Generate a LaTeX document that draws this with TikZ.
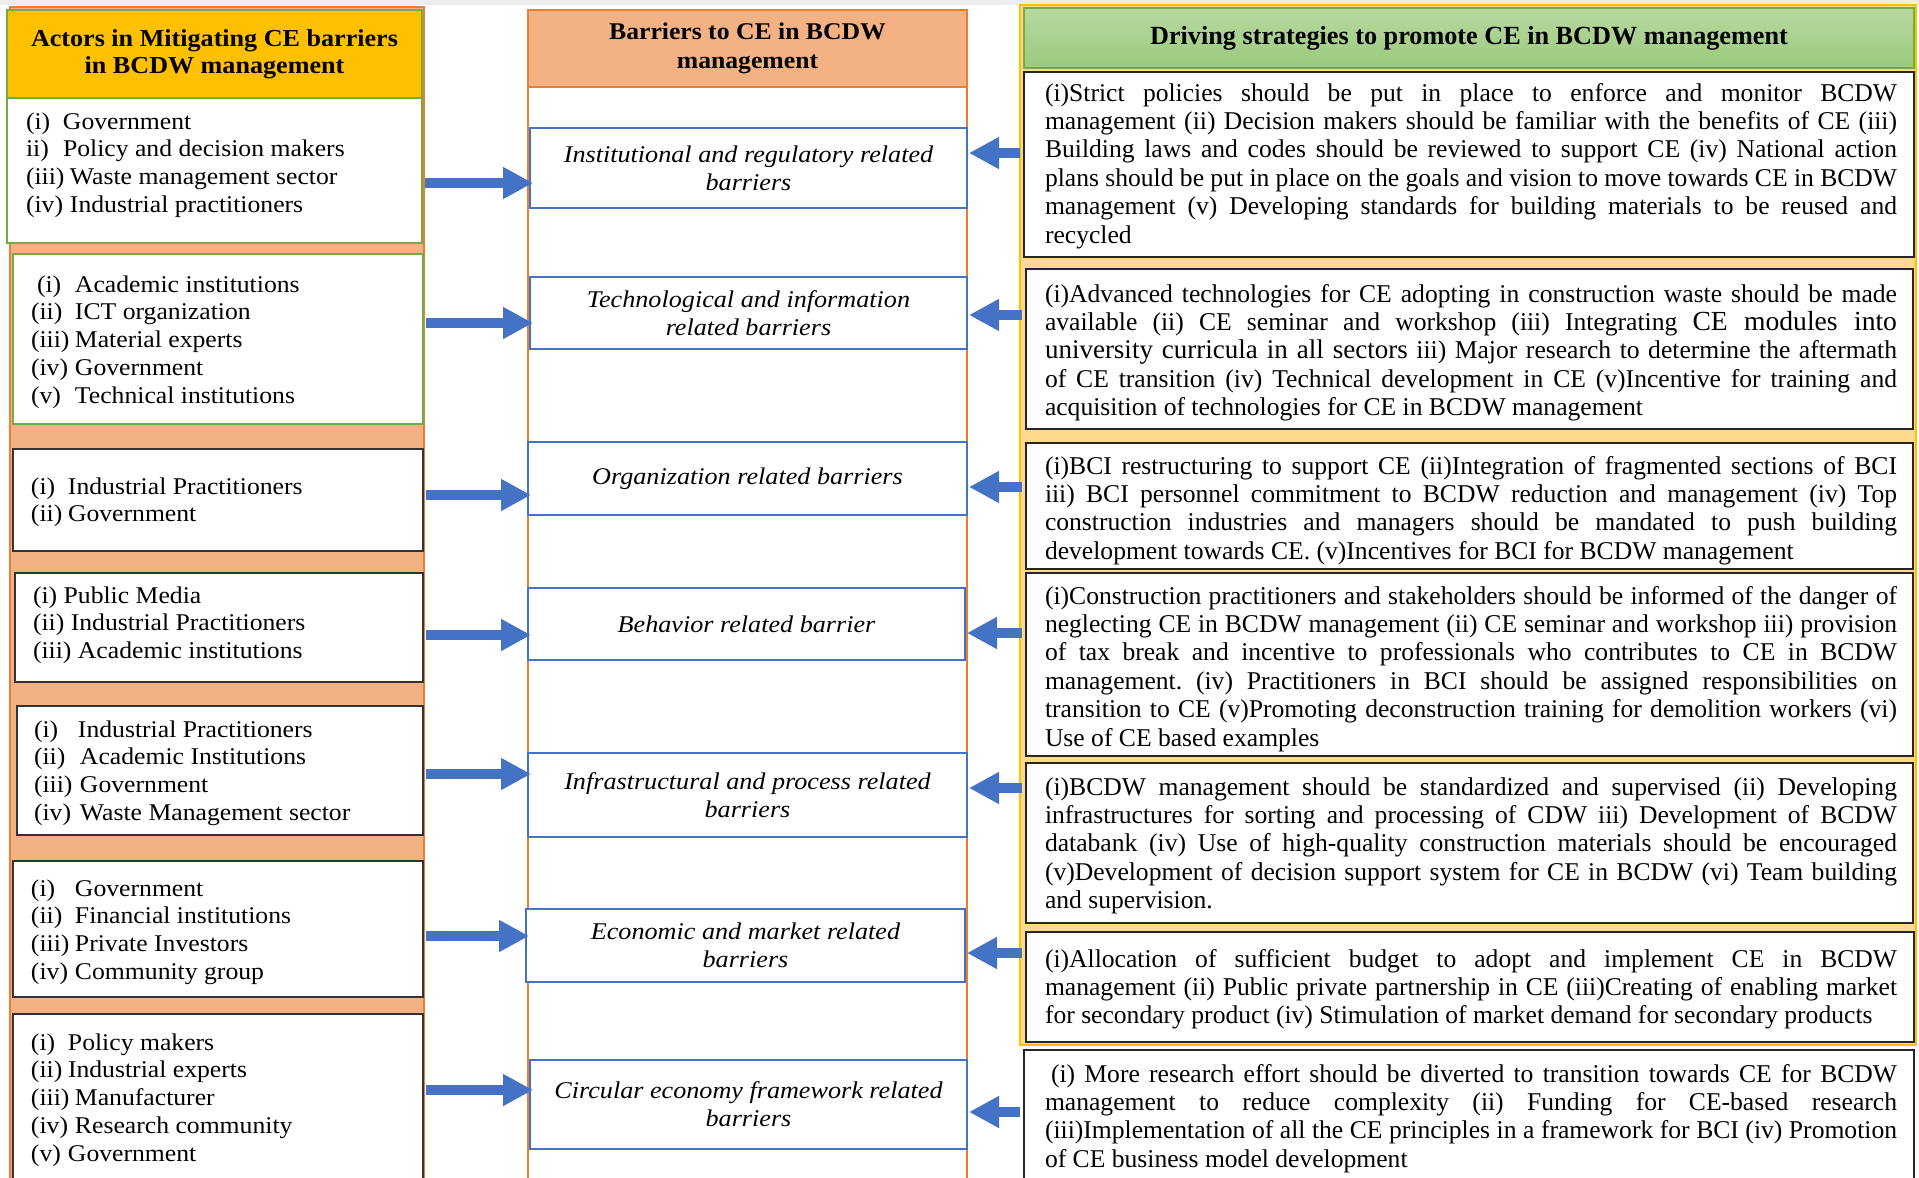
\documentclass[tikz,border=0pt]{standalone}
\usepackage{fontspec}
\setmainfont{Liberation Serif}
\newfontfamily\lfont[FakeStretch=1.07]{Liberation Serif}
\newfontfamily\mfont[FakeStretch=1.09]{Liberation Serif}
\usetikzlibrary{arrows.meta,fit,calc}
\definecolor{salmon}{HTML}{F4B183}
\definecolor{orline}{HTML}{ED7D31}
\definecolor{gold}{HTML}{FFC000}
\definecolor{grline}{HTML}{70AD47}
\definecolor{ryel}{HTML}{FFD98E}
\definecolor{abl}{HTML}{4472C4}
\definecolor{gtop}{HTML}{B7D9A0}
\definecolor{gbot}{HTML}{9CC97E}
\frenchspacing
\newcommand\itlab[2]{\makebox[#1][l]{#2}}
\newcommand\jline[1]{\makebox[426pt][s]{#1}}
\newcommand\leftlist[1]{\parbox[t]{195pt}{\lfont\fontsize{12pt}{13.95pt}\selectfont #1}}
\newcommand\rightpara[1]{\parbox[t]{426pt}{\frenchspacing\fontsize{12.8pt}{14.2pt}\selectfont #1}}
\begin{document}
\begin{tikzpicture}[x=0.5pt,y=-0.5pt,
  every node/.style={inner sep=0pt, outer sep=0pt},
  arr/.style={draw=abl, line width=5pt, -{Triangle[width=15pt,length=15pt]}},
  lbox/.style={draw=black!80, fill=white, line width=0.8pt},
  gbox/.style={draw=grline, fill=white, line width=0.8pt},
  bbox/.style={draw=abl, fill=white, line width=0.8pt},
  rbox/.style={draw=black!85, fill=white, line width=1pt},
  btext/.style={font=\mfont\itshape\fontsize{12pt}{14pt}\selectfont, align=center},
  htext/.style={font=\lfont\bfseries\fontsize{12.2pt}{13.75pt}\selectfont, align=center}]
\useasboundingbox (0,0) rectangle (1919,1178);
\fill[black!7] (0,0) rectangle (1919,5);

% ---------- left column ----------
\node[fit={(10,7)(424,1190)}, draw=orline, fill=salmon, line width=0.8pt] (Lcol) {};
\node[fit={(7,10)(422,98)}, draw=grline, fill=gold, line width=0.8pt] (Lhead) {};
\node[htext] at (Lhead) {Actors in Mitigating CE barriers\\in BCDW management};

\node[fit={(7,98)(422,243)}, gbox] (L1) {};
\node[fit={(13,254)(423,424)}, gbox] (L2) {};
\node[fit={(13,449)(423,551)}, lbox] (L3) {};
\node[fit={(15,573)(423,682)}, lbox] (L4) {};
\node[fit={(17,706)(423,835)}, lbox] (L5) {};
\node[fit={(13,861)(423,997)}, lbox] (L6) {};
\node[fit={(13,1014)(423,1195)}, lbox] (L7) {};

\node[anchor=base west] (T1) at ($(L1.north west)+(19,31)$) {\leftlist{%
\itlab{18.5pt}{(i)}Government\\
\itlab{18.5pt}{ii)}Policy and decision makers\\
\itlab{22pt}{(iii)}Waste management sector\\
\itlab{22pt}{(iv)}Industrial practitioners}};
\node[anchor=base west] (T2) at ($(L2.north west)+(18,38)$) {\leftlist{%
\itlab{22pt}{\hspace*{3pt}(i)}Academic institutions\\
\itlab{22pt}{(ii)}ICT organization\\
\itlab{22pt}{(iii)}Material experts\\
\itlab{22pt}{(iv)}Government\\
\itlab{22pt}{(v)}Technical institutions}};
\node[anchor=base west] (T3) at ($(L3.north west)+(18,45)$) {\leftlist{%
\itlab{18.5pt}{(i)}Industrial Practitioners\\
\itlab{18.5pt}{(ii)}Government}};
\node[anchor=base west] (T4) at ($(L4.north west)+(18,30)$) {\leftlist{%
(i) Public Media\\
(ii) Industrial Practitioners\\
(iii) Academic institutions}};
\node[anchor=base west] (T5) at ($(L5.north west)+(17,31)$) {\leftlist{%
\itlab{22pt}{(i)}Industrial Practitioners\\
\itlab{23pt}{(ii)}Academic Institutions\\
\itlab{23pt}{(iii)}Government\\
\itlab{23pt}{(iv)}Waste Management sector}};
\node[anchor=base west] (T6) at ($(L6.north west)+(18,35)$) {\leftlist{%
\itlab{22pt}{(i)}Government\\
\itlab{22pt}{(ii)}Financial institutions\\
\itlab{22pt}{(iii)}Private Investors\\
\itlab{22pt}{(iv)}Community group}};
\node[anchor=base west] (T7) at ($(L7.north west)+(18,36)$) {\leftlist{%
\itlab{18.5pt}{(i)}Policy makers\\
\itlab{18.5pt}{(ii)}Industrial experts\\
\itlab{22pt}{(iii)}Manufacturer\\
\itlab{22pt}{(iv)}Research community\\
\itlab{18.5pt}{(v)}Government}};

% ---------- middle column ----------
\node[fit={(528,10)(967,1195)}, draw=orline, fill=white, line width=0.8pt] (Mcol) {};
\node[fit={(528,10)(967,87)}, draw=orline, fill=salmon, line width=0.8pt] (Mhead) {};
\node[htext, font=\lfont\bfseries\fontsize{12pt}{14.5pt}\selectfont] at (Mhead) {Barriers to CE in BCDW\\management};

\node[fit={(530,128)(967,208)}, bbox] (B1) {};
\node[fit={(530,277)(967,349)}, bbox] (B2) {};
\node[fit={(528,442)(967,515)}, bbox] (B3) {};
\node[fit={(528,588)(965,660)}, bbox] (B4) {};
\node[fit={(528,753)(967,837)}, bbox] (B5) {};
\node[fit={(526,909)(965,982)}, bbox] (B6) {};
\node[fit={(530,1060)(967,1149)}, bbox] (B7) {};
\node[btext] at (B1) {Institutional and regulatory related\\barriers};
\node[btext] at (B2) {Technological and information\\related barriers};
\node[btext] at (B3) {Organization related barriers};
\node[btext] at (B4) {Behavior related barrier};
\node[btext] at (B5) {Infrastructural and process related\\barriers};
\node[btext] at (B6) {Economic and market related\\barriers};
\node[btext] at (B7) {Circular economy framework related\\barriers};

% ---------- right column ----------
\node[fit={(1020,5)(1916,1045)}, draw=gold, fill=ryel, line width=0.8pt] (Rcol) {};
\node[fit={(1024,8)(1914,68)}, draw=grline, top color=gtop, bottom color=gbot, line width=0.8pt] (Rhead) {};
\node[font=\bfseries\fontsize{13.1pt}{14pt}\selectfont] at (Rhead) {Driving strategies to promote CE in BCDW management};

\node[fit={(1024,72)(1914,257)}, rbox] (R1) {};
\node[fit={(1026,269)(1913,429)}, rbox] (R2) {};
\node[fit={(1026,443)(1913,569)}, rbox] (R3) {};
\node[fit={(1026,573)(1913,756)}, rbox] (R4) {};
\node[fit={(1026,763)(1913,923)}, rbox] (R5) {};
\node[fit={(1026,932)(1914,1042)}, rbox] (R6) {};
\node[fit={(1024,1050)(1914,1195)}, rbox] (R7) {};

\node[anchor=base west] (S1) at ($(R1.north west)+(21,29)$) {\rightpara{%
\jline{(i)Strict policies should be put in place to enforce and monitor BCDW}\\
\jline{management (ii) Decision makers should be familiar with the benefits of CE (iii)}\\
\jline{Building laws and codes should be reviewed to support CE (iv) National action}\\
\jline{plans should be put in place on the goals and vision to move towards CE in BCDW}\\
\jline{management (v) Developing standards for building materials to be reused and}\\
recycled}};
\node[anchor=base west] (S2) at ($(R2.north west)+(19,33)$) {\rightpara{%
\jline{(i)Advanced technologies for CE adopting in construction waste should be made}\\
\jline{available (ii) CE seminar and workshop (iii) Integrating {\fontsize{13.8pt}{14pt}\selectfont CE modules into}}\\
\jline{{\fontsize{13.5pt}{14pt}\selectfont university curricula in all sectors} iii) Major research to determine the aftermath}\\
\jline{of CE transition (iv) Technical development in CE (v)Incentive for training and}\\
acquisition of technologies for CE in BCDW management}};
\node[anchor=base west] (S3) at ($(R3.north west)+(19,31)$) {\rightpara{%
\jline{(i)BCI restructuring to support CE (ii)Integration of fragmented sections of BCI}\\
\jline{iii) BCI personnel commitment to BCDW reduction and management (iv) Top}\\
\jline{construction industries and managers should be mandated to push building}\\
development towards CE. (v)Incentives for BCI for BCDW management}};
\node[anchor=base west] (S4) at ($(R4.north west)+(19,31)$) {\rightpara{%
\jline{(i)Construction practitioners and stakeholders should be informed of the danger of}\\
\jline{neglecting CE in BCDW management (ii) CE seminar and workshop iii) provision}\\
\jline{of tax break and incentive to professionals who contributes to CE in BCDW}\\
\jline{management. (iv) Practitioners in BCI should be assigned responsibilities on}\\
\jline{transition to CE (v)Promoting deconstruction training for demolition workers (vi)}\\
Use of CE based examples}};
\node[anchor=base west] (S5) at ($(R5.north west)+(19,32)$) {\rightpara{%
\jline{(i)BCDW management should be standardized and supervised (ii) Developing}\\
\jline{infrastructures for sorting and processing of CDW iii) Development of BCDW}\\
\jline{databank (iv) Use of high-quality construction materials should be encouraged}\\
\jline{(v)Development of decision support system for CE in BCDW (vi) Team building}\\
and supervision.}};
\node[anchor=base west] (S6) at ($(R6.north west)+(19,35)$) {\rightpara{%
\jline{(i)Allocation of sufficient budget to adopt and implement CE in BCDW}\\
\jline{management (ii) Public private partnership in CE (iii)Creating of enabling market}\\
for secondary product (iv) Stimulation of market demand for secondary products}};
\node[anchor=base west] (S7) at ($(R7.north west)+(21,32)$) {\rightpara{%
\jline{\hspace*{3pt}(i) More research effort should be diverted to transition towards CE for BCDW}\\
\jline{management to reduce complexity (ii) Funding for CE-based research}\\
\jline{(iii)Implementation of all the CE principles in a framework for BCI (iv) Promotion}\\
of CE business model development}};

% ---------- arrows ----------
\draw[arr] ($(L1.east)+(3,12.5)$) -- ($(L1.east -| B1.west)+(3,12.5)$);
\draw[arr] ($(L2.east)+(3,-16)$) -- ($(L2.east -| B2.west)+(3,-16)$);
\draw[arr] ($(L3.east)+(3,-5)$) -- ($(L3.east -| B3.west)+(3,-5)$);
\draw[arr] ($(L4.east)+(3,7.5)$) -- ($(L4.east -| B4.west)+(3,7.5)$);
\draw[arr] ($(L5.east)+(3,3.5)$) -- ($(L5.east -| B5.west)+(3,3.5)$);
\draw[arr] ($(L6.east)+(3,7)$) -- ($(L6.east -| B6.west)+(3,7)$);
\draw[arr] ($(L7.east)+(3,-14.5)$) -- ($(L7.east -| B7.west)+(3,-14.5)$);

\draw[arr] ($(R1.west)+(-4,-11.5)$) -- ($(R1.west -| B1.east)+(2,-11.5)$);
\draw[arr] ($(R2.west)+(-4,-34)$) -- ($(R2.west -| B2.east)+(2,-34)$);
\draw[arr] ($(R3.west)+(-4,-19)$) -- ($(R3.west -| B3.east)+(2,-19)$);
\draw[arr] ($(R4.west)+(-4,-31.5)$) -- ($(R4.west -| B4.east)+(2,-31.5)$);
\draw[arr] ($(R5.west)+(-4,-55)$) -- ($(R5.west -| B5.east)+(2,-55)$);
\draw[arr] ($(R6.west)+(-4,-34)$) -- ($(R6.west -| B6.east)+(2,-34)$);
\draw[arr] ($(R7.west)+(-4,-10.5)$) -- ($(R7.west -| B7.east)+(2,-10.5)$);
\end{tikzpicture}
\end{document}
